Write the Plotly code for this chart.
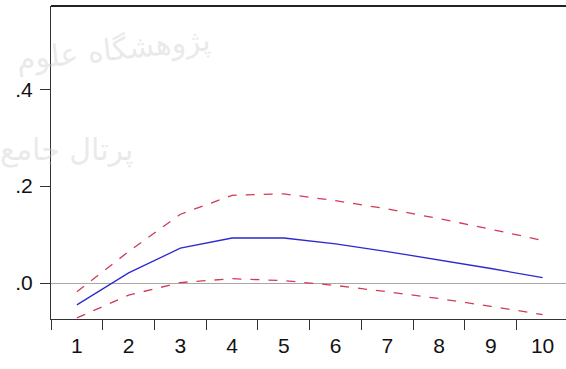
import plotly.graph_objects as go

# Impulse response over 10 periods with +/- 2 S.E. bands
periods = ["1", "2", "3", "4", "5", "6", "7", "8", "9", "10"]
response = [-0.045, 0.021, 0.072, 0.093, 0.093, 0.081, 0.065, 0.048, 0.030, 0.011]
upper_band = [-0.018, 0.065, 0.142, 0.181, 0.184, 0.170, 0.153, 0.133, 0.111, 0.088]
lower_band = [-0.072, -0.025, 0.001, 0.009, 0.005, -0.005, -0.018, -0.032, -0.048, -0.065]

y_ticks = [0.0, 0.2, 0.4]
y_tick_labels = [".0", ".2", ".4"]

band_color = "#d23a55"
line_color = "#2a2ad0"

fig = go.Figure()
fig.add_trace(go.Scatter(x=periods, y=upper_band, mode="lines",
                         line=dict(color=band_color, width=1.3, dash="dash"),
                         showlegend=False, hoverinfo="skip"))
fig.add_trace(go.Scatter(x=periods, y=lower_band, mode="lines",
                         line=dict(color=band_color, width=1.3, dash="dash"),
                         showlegend=False, hoverinfo="skip"))
fig.add_trace(go.Scatter(x=periods, y=response, mode="lines",
                         line=dict(color=line_color, width=1.3),
                         showlegend=False))

# faint watermark text
wm_color = "rgba(200,200,200,0.4)"
fig.add_annotation(text="پژوهشگاه علوم", xref="paper", yref="paper",
                   x=0.318, y=0.86, xanchor="right", yanchor="middle",
                   showarrow=False, textangle=-6,
                   font=dict(family="DejaVu Sans", size=30, color=wm_color))
fig.add_annotation(text="پرتال جامع", xref="paper", yref="paper",
                   x=0.164, y=0.54, xanchor="right", yanchor="middle",
                   showarrow=False,
                   font=dict(family="DejaVu Sans", size=30, color=wm_color))

# top frame line
fig.add_shape(type="line", xref="paper", yref="paper", x0=0, x1=1, y0=1, y1=1,
              line=dict(color="#222222", width=2))

fig.update_layout(
    width=566, height=369,
    margin=dict(l=51, r=0, t=6, b=50),
    paper_bgcolor="white", plot_bgcolor="white",
    font=dict(family="Liberation Sans, Arial, sans-serif", size=20, color="#111111"),
    xaxis=dict(
        type="category", categoryorder="array", categoryarray=periods,
        range=[-0.5, 9.452], tickson="boundaries",
        ticks="outside", ticklen=10, tickwidth=1, tickcolor="#333333",
        ticklabelstandoff=8,
        showline=True, linecolor="#333333", linewidth=1, mirror=False,
        showgrid=False, zeroline=False,
        tickfont=dict(size=21),
    ),
    yaxis=dict(
        range=[-0.0742, 0.5718],
        tickvals=y_ticks, ticktext=y_tick_labels,
        ticks="outside", ticklen=10, tickwidth=1, tickcolor="#333333",
        ticklabelstandoff=3,
        showline=True, linecolor="#333333", linewidth=1, mirror=False,
        showgrid=False,
        zeroline=True, zerolinecolor="#a8a8a8", zerolinewidth=1,
        tickfont=dict(size=21),
    ),
)

fig.write_html("out.html")
